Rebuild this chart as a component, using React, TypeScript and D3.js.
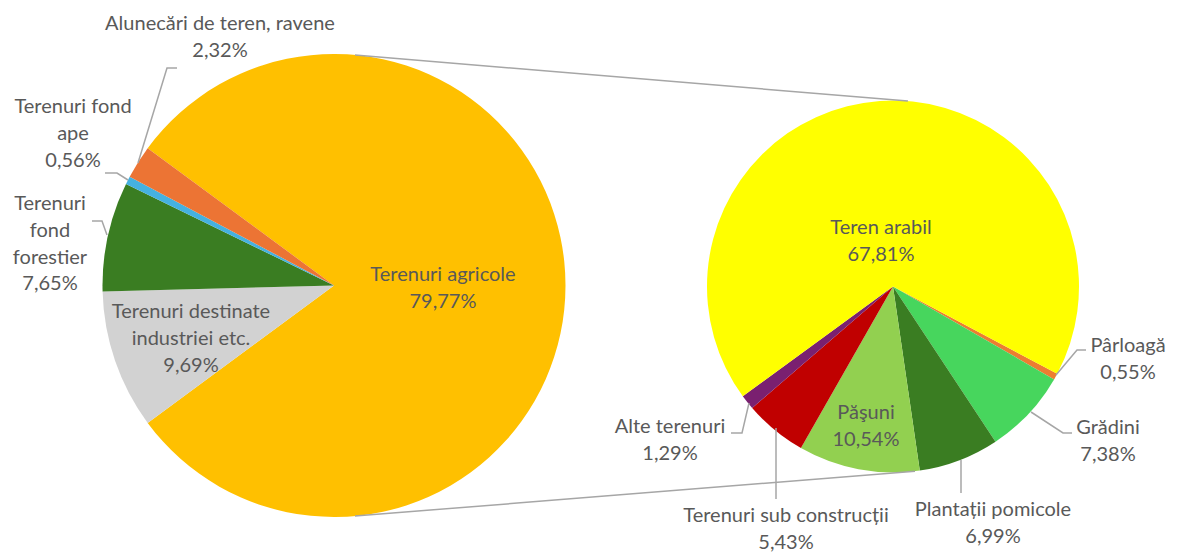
import { arc, pie, sum, format } from "d3";

// pie-of-pie: land use structure, agricultural land broken down in the right pie

const W = 1177;
const H = 553;

const mainCategories = [
  "Terenuri agricole",
  "Terenuri destinate industriei etc.",
  "Terenuri fond forestier",
  "Terenuri fond ape",
  "Alunecări de teren, ravene",
];
const mainValues = [79.77, 9.69, 7.65, 0.56, 2.32];
const mainColors = ["#ffc000", "#d2d2d2", "#3a7d22", "#45b1e0", "#ec7434"];

const detailCategories = [
  "Pârloagă",
  "Grădini",
  "Plantații pomicole",
  "Păşuni",
  "Terenuri sub construcții",
  "Alte terenuri",
  "Teren arabil",
];
const detailValues = [0.55, 7.38, 6.99, 10.54, 5.43, 1.29, 67.81];
const detailColors = ["#ed7d31", "#47d65d", "#3a7d22", "#92d050", "#c00000", "#7a2070", "#ffff00"];

// layout
const MAIN = { cx: 334, cy: 285.5, r: 231.5 };
const DETAIL = { cx: 893, cy: 286.5, r: 186, start: 118 };
const FONT = "Lato, 'Open Sans', sans-serif";
const FONT_SIZE = 20;
const LH = 26.8;
const TEXT = "#595959";
const LINE = "#a6a6a6";

type Label = { lines: string[]; x: number; y: number; anchor?: string; leader?: [number, number][] };

const mainLabels: Label[] = [
  { lines: ["Terenuri agricole"], x: 443, y: 273 },
  { lines: ["Terenuri destinate", "industriei etc."], x: 191, y: 310 },
  { lines: ["Terenuri", "fond", "forestier"], x: 50, y: 202, leader: [[92, 221], [102, 221], [107, 235]] },
  { lines: ["Terenuri fond", "ape"], x: 73, y: 105, leader: [[105, 173], [117, 173], [128, 180]] },
  { lines: ["Alunecări de teren, ravene"], x: 220, y: 22, leader: [[177, 68], [167, 68], [138, 163]] },
];

const detailLabels: Label[] = [
  { lines: ["Pârloagă"], x: 1128, y: 344, leader: [[1086, 350], [1077, 350], [1056, 375]] },
  { lines: ["Grădini"], x: 1108, y: 426, leader: [[1072, 433], [1063, 433], [1031, 412]] },
  { lines: ["Plantații pomicole"], x: 993, y: 508, leader: [[961, 493], [961, 460]] },
  { lines: ["Păşuni"], x: 866, y: 411 },
  { lines: ["Terenuri sub construcții"], x: 786, y: 514, leader: [[776, 499], [776, 428]] },
  { lines: ["Alte terenuri"], x: 670, y: 425, leader: [[731, 433], [742, 433], [749, 403]] },
  { lines: ["Teren arabil"], x: 881, y: 226 },
];

// connector angles (deg, clockwise from top)
const CONNECT = [
  { a1: 5.2, a2: 4.6 },
  { a1: 174.8, a2: 173.2 },
];

const pct = (v: number) => format(".2f")(v).replace(".", ",") + "%";
const rad = (d: number) => (d * Math.PI) / 180;
const onCircle = (c: { cx: number; cy: number; r: number }, deg: number) => [
  c.cx + c.r * Math.sin(rad(deg)),
  c.cy - c.r * Math.cos(rad(deg)),
];

const PieLabel = ({ label, value }: { label: Label; value: number }) => {
  const all = [...label.lines, pct(value)];
  return (
    <g>
      {label.leader && (
        <polyline
          points={label.leader.map((p) => p.join(",")).join(" ")}
          fill="none"
          stroke={LINE}
          strokeWidth={1.5}
        />
      )}
      <text
        fontFamily={FONT}
        fontSize={FONT_SIZE}
        fill={TEXT}
        textAnchor={label.anchor ?? "middle"}
        dominantBaseline="central"
      >
        {all.map((t, i) => (
          <tspan key={i} x={label.x} y={label.y + i * LH}>
            {t}
          </tspan>
        ))}
      </text>
    </g>
  );
};

export default function App() {
  const mainTotal = sum(mainValues);
  const mainStart = Math.PI / 2 - (mainValues[0] / mainTotal) * Math.PI;
  const mainPie = pie<number>()
    .sort(null)
    .value((d) => d)
    .startAngle(mainStart)
    .endAngle(mainStart + 2 * Math.PI)(mainValues);

  const detailPie = pie<number>()
    .sort(null)
    .value((d) => d)
    .startAngle(rad(DETAIL.start))
    .endAngle(rad(DETAIL.start) + 2 * Math.PI)(detailValues);

  const mainArc = arc<any>().innerRadius(0).outerRadius(MAIN.r);
  const detailArc = arc<any>().innerRadius(0).outerRadius(DETAIL.r);

  return (
    <svg
      width={W}
      height={H}
      style={{ position: "absolute", left: 0, top: 0, background: "#fff" }}
    >
      <g transform={`translate(${MAIN.cx},${MAIN.cy})`}>
        {mainPie.map((s, i) => (
          <path key={mainCategories[i]} d={mainArc(s) ?? ""} fill={mainColors[i]} />
        ))}
      </g>
      <g transform={`translate(${DETAIL.cx},${DETAIL.cy})`}>
        {detailPie.map((s, i) => (
          <path key={detailCategories[i]} d={detailArc(s) ?? ""} fill={detailColors[i]} />
        ))}
      </g>
      {CONNECT.map((c, i) => {
        const [x1, y1] = onCircle(MAIN, c.a1);
        const [x2, y2] = onCircle(DETAIL, c.a2);
        return <line key={i} x1={x1} y1={y1} x2={x2} y2={y2} stroke={LINE} strokeWidth={1.5} />;
      })}
      {mainLabels.map((l, i) => (
        <PieLabel key={mainCategories[i]} label={l} value={mainValues[i]} />
      ))}
      {detailLabels.map((l, i) => (
        <PieLabel key={detailCategories[i]} label={l} value={detailValues[i]} />
      ))}
    </svg>
  );
}
